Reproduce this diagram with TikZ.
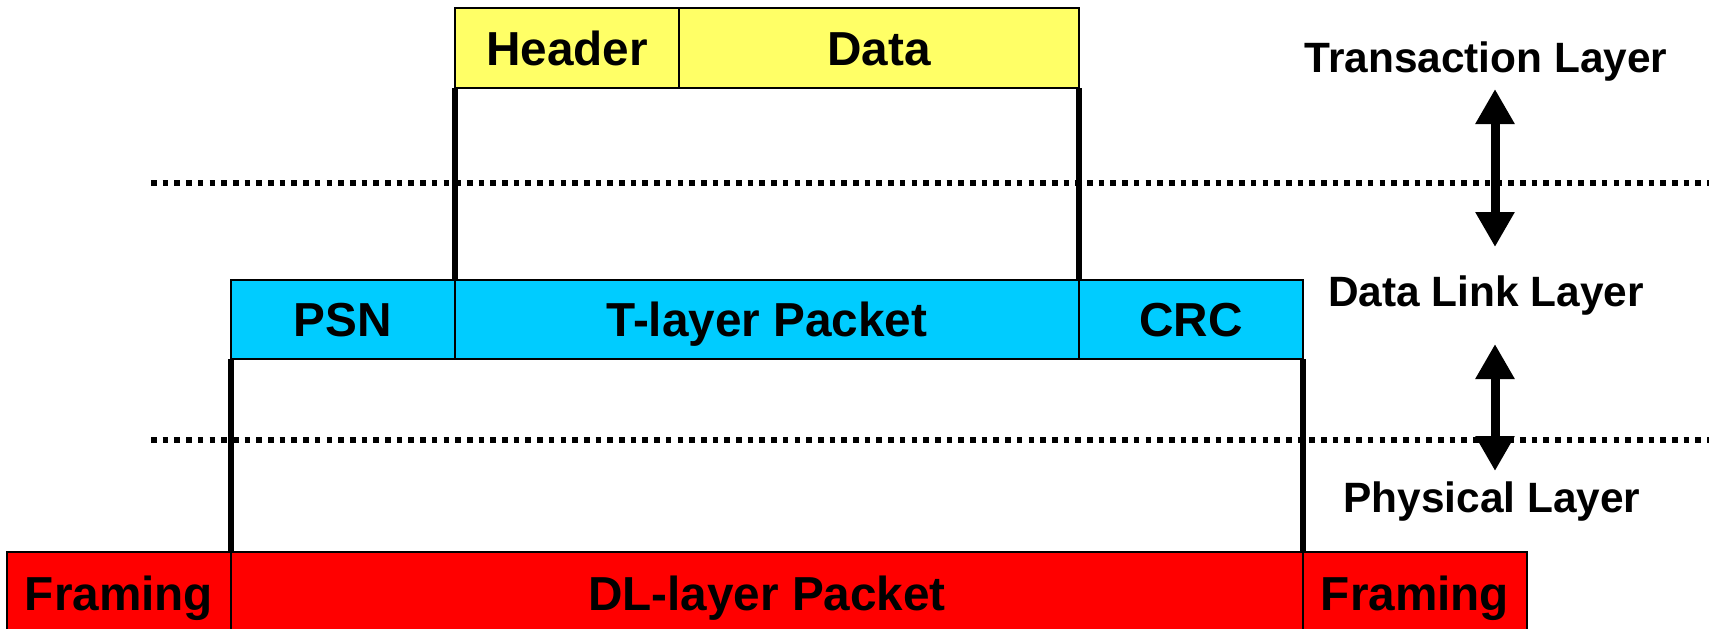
\documentclass[tikz,border=0pt]{standalone}
\usepackage{fontspec}
\setmainfont{Liberation Sans}
\usetikzlibrary{arrows.meta}
\definecolor{tyellow}{RGB}{255,255,102}
\definecolor{tcyan}{RGB}{0,204,255}
\definecolor{tred}{RGB}{255,0,0}
\newcommand{\cellfont}{\fontsize{23.85}{28}\selectfont\bfseries}
\newcommand{\layerfont}{\fontsize{21.2}{25}\selectfont\bfseries}
\begin{document}
\begin{tikzpicture}[x=0.5pt,y=-0.5pt,
  cell/.style={draw=black, line width=1pt, anchor=north west, inner sep=0pt,
    outer sep=0pt, font=\cellfont, text height=17.1pt, text depth=0pt},
  narrowcell/.style={cell, minimum width=112pt},
  yrow/.style={minimum height=40pt, fill=tyellow},
  crow/.style={minimum height=39.5pt, fill=tcyan},
  rrow/.style={minimum height=41pt, fill=tred},
  layer/.style={inner sep=0pt, font=\layerfont, text height=15.2pt, text depth=0pt},
  leg/.style={line width=2.9pt},
  sep/.style={line width=2.8pt, dash pattern=on 2.8pt off 3.05pt},
  updown/.style={line width=4.5pt,
    {Triangle[length=17.5pt,width=18.5pt]}-{Triangle[length=17.5pt,width=18.5pt]}}]
\useasboundingbox (0,0) rectangle (1709,628);

% layer boundaries
\coordinate (s1l) at (151,183);
\coordinate (s1r) at (1709,183);
\coordinate (s2l) at (151,440);
\coordinate (s2r) at (1709,440);
\draw[sep] (s1l) -- (s1r);
\draw[sep] (s2l) -- (s2r);

% transaction layer packet
\node[narrowcell, yrow] (hdr) at (455,8) {Header};
\node[cell, yrow, minimum width=200pt] (data) at (679,8) {Data};

% data link layer packet
\node[narrowcell, crow] (psn) at (231,280) {PSN};
\node[cell, crow, minimum width=312pt] (tlp) at (455,280) {T-layer Packet};
\node[narrowcell, crow] (crc) at (1079,280) {CRC};

% physical layer packet
\node[narrowcell, rrow] (fr1) at (7,552) {Framing};
\node[cell, rrow, minimum width=536pt] (dll) at (231,552) {DL-layer Packet};
\node[narrowcell, rrow] (fr2) at (1303,552) {Framing};

% encapsulation legs
\draw[leg] (hdr.south west) -- (tlp.north west);
\draw[leg] (data.south east) -- (tlp.north east);
\draw[leg] (psn.south west) -- (dll.north west);
\draw[leg] (crc.south east) -- (dll.north east);

% layer names
\node[layer] (tl) at (1486,57.5) {Transaction Layer};
\node[layer] (dl) at (1486,291) {Data Link Layer};
\node[layer] (pl) at (1492,497.5) {Physical Layer};

% exchanges between layers
\coordinate (a1t) at (1495,89);
\coordinate (a1b) at (1495,247);
\coordinate (a2t) at (1495,344);
\coordinate (a2b) at (1495,471);
\draw[updown] (a1t) -- (a1b);
\draw[updown] (a2t) -- (a2b);
\end{tikzpicture}
\end{document}
